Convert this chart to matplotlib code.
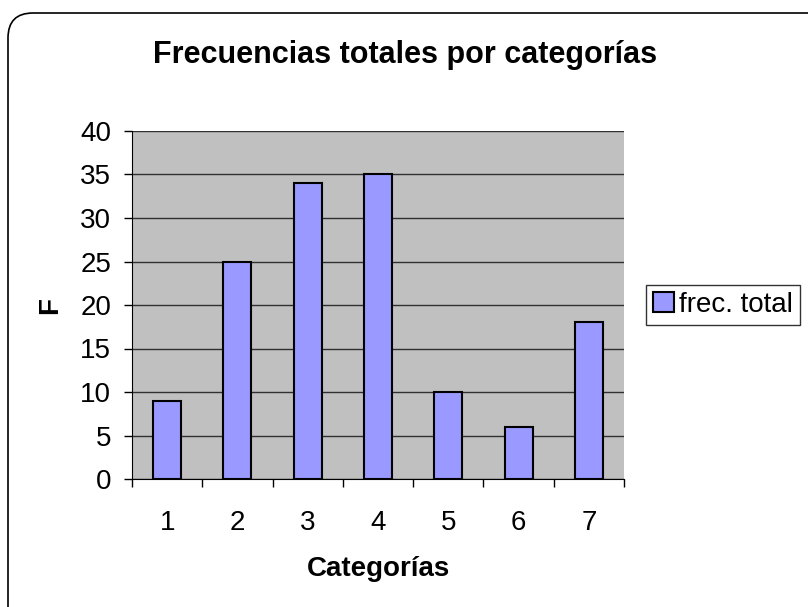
import matplotlib.pyplot as plt
from matplotlib.patches import FancyBboxPatch

plt.rcParams['font.family'] = ['Liberation Sans', 'DejaVu Sans']

categorias = ['1', '2', '3', '4', '5', '6', '7']
frec_total = [9, 25, 34, 35, 10, 6, 18]
y_ticks = [0, 5, 10, 15, 20, 25, 30, 35, 40]

fig = plt.figure(figsize=(8.08, 6.07), dpi=100)

# rounded chart border (in inches), running off the right and bottom edges
border = FancyBboxPatch((0.08, -0.5), 8.6, 6.44,
                        boxstyle='round,pad=0,rounding_size=0.25',
                        transform=fig.dpi_scale_trans, fill=False,
                        edgecolor='black', linewidth=1.2, zorder=0)
fig.patches.append(border)

ax = fig.add_axes([132 / 808, 1 - 479 / 607, 492 / 808, 348 / 607])
ax.set_facecolor('#C0C0C0')

x = list(range(len(categorias)))
ax.bar(x, frec_total, width=0.4, color='#9999FF', edgecolor='black',
       linewidth=1.5, zorder=3, label='frec. total')

ax.set_xlim(-0.5, len(categorias) - 0.5)
ax.set_ylim(0, 40)
ax.set_yticks(y_ticks)
ax.set_xticks(x)
ax.set_xticklabels(categorias)
ax.set_xticks([i - 0.5 for i in range(len(categorias) + 1)], minor=True)
ax.tick_params(axis='x', which='major', length=0, labelsize=20, pad=22)
ax.tick_params(axis='x', which='minor', length=6, direction='out', width=1)
ax.tick_params(axis='y', length=6, direction='out', width=1, labelsize=20, pad=9)

ax.grid(axis='y', color='#303030', linewidth=1, zorder=1)
ax.set_axisbelow(True)
for s in ['top', 'right']:
    ax.spines[s].set_visible(False)

ax.set_xlabel('Categorías', fontsize=20, fontweight='bold', labelpad=15)
ax.set_ylabel('F', fontsize=20, fontweight='bold', labelpad=12)

fig.text(405 / 808, 1 - 55 / 607, 'Frecuencias totales por categorías',
         ha='center', va='center', fontsize=22, fontweight='bold')

leg = ax.legend(loc='center left', bbox_to_anchor=(646 / 808, 1 - 305 / 607),
                bbox_transform=fig.transFigure, fontsize=20, frameon=True,
                fancybox=False, edgecolor='black', handlelength=0.75,
                handleheight=0.75, handletextpad=0.2, borderpad=0.25,
                borderaxespad=0)
leg.get_frame().set_linewidth(1)

fig.savefig('out.png', dpi=100)
